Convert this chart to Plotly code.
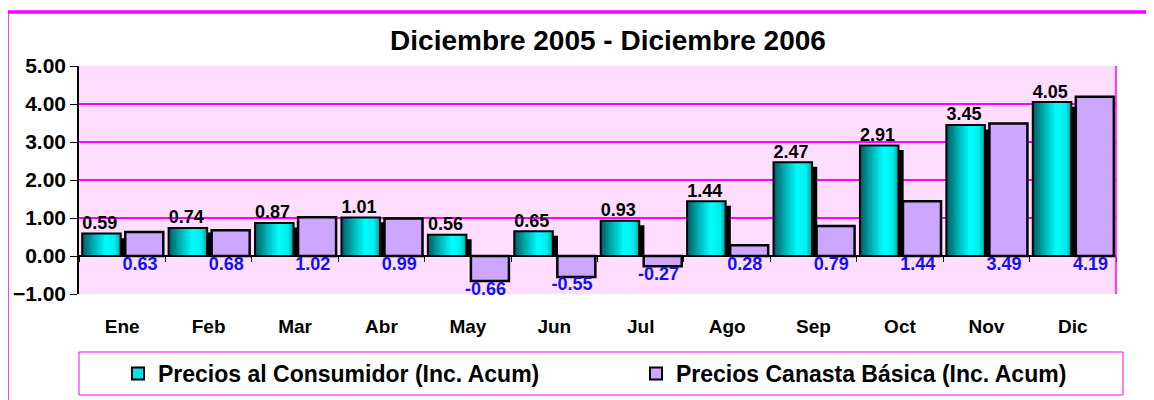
import plotly.graph_objects as go

months = ["Ene", "Feb", "Mar", "Abr", "May", "Jun", "Jul", "Ago", "Sep", "Oct", "Nov", "Dic"]
consumidor = [0.59, 0.74, 0.87, 1.01, 0.56, 0.65, 0.93, 1.44, 2.47, 2.91, 3.45, 4.05]
canasta = [0.63, 0.68, 1.02, 0.99, -0.66, -0.55, -0.27, 0.28, 0.79, 1.44, 3.49, 4.19]
name1 = "Precios al Consumidor (Inc. Acum)"
name2 = "Precios Canasta Básica (Inc. Acum)"
y_ticks = [-1, 0, 1, 2, 3, 4, 5]

FONT = "Arial, Liberation Sans, sans-serif"
idx = list(range(len(months)))

# bar geometry (category units)
c_off, c_w = -0.463, 0.446
p_off, p_w = 0.035, 0.44

fig = go.Figure()

# shadow for cyan bars
fig.add_trace(go.Bar(x=idx, y=[v - 0.12 for v in consumidor], offset=c_off + 0.06, width=c_w,
                     marker=dict(color="black", line=dict(width=0)), showlegend=False, hoverinfo="skip"))

# gradient strips
stops = [(0.0, (0, 90, 95)), (0.3, (0, 175, 180)), (0.62, (0, 255, 255)), (0.85, (0, 235, 235)), (1.0, (0, 160, 165))]
def col(t):
    for (t0, c0), (t1, c1) in zip(stops[:-1], stops[1:]):
        if t0 <= t <= t1:
            f = (t - t0) / (t1 - t0) if t1 > t0 else 0
            return "rgb(%d,%d,%d)" % tuple(round(a + (b - a) * f) for a, b in zip(c0, c1))
    return "rgb(0,160,165)"

N = 16
sw = c_w / N
for i in range(N):
    start = c_off + i * sw
    fig.add_trace(go.Bar(x=idx, y=consumidor, offset=start, width=c_off + c_w - start,
                         marker=dict(color=col((i + 0.5) / N), line=dict(width=0)),
                         showlegend=False, hoverinfo="skip"))
# outline
fig.add_trace(go.Bar(x=idx, y=consumidor, offset=c_off, width=c_w,
                     marker=dict(color="rgba(0,0,0,0)", line=dict(color="black", width=2)),
                     showlegend=False, hoverinfo="skip"))

# purple bars
fig.add_trace(go.Bar(x=idx, y=canasta, offset=p_off, width=p_w,
                     marker=dict(color="#CCA6FF", line=dict(color="black", width=2.5)),
                     showlegend=False, hoverinfo="skip"))

# legend-only traces
fig.add_trace(go.Bar(x=[None], y=[None], name=name1, legend="legend",
                     marker=dict(color="#00E5E5", line=dict(color="black", width=2))))
fig.add_trace(go.Bar(x=[None], y=[None], name=name2, legend="legend2",
                     marker=dict(color="#CCA6FF", line=dict(color="black", width=2))))

# labels
fig.add_trace(go.Scatter(x=[i + c_off + c_w / 2 - 0.02 for i in idx], y=consumidor, mode="text",
                         text=["%.2f" % v for v in consumidor], textposition="top center",
                         textfont=dict(family=FONT, size=18, color="black", weight="bold"),
                         showlegend=False, hoverinfo="skip", cliponaxis=False))
fig.add_trace(go.Scatter(x=[i + p_off + p_w / 2 - 0.05 for i in idx], y=[min(v, 0) for v in canasta],
                         mode="text", text=["%.2f" % v for v in canasta], textposition="bottom center",
                         textfont=dict(family=FONT, size=18, color="#1010FF", weight="bold"),
                         showlegend=False, hoverinfo="skip", cliponaxis=False))

# page offset (body margin) compensation
OFF = 8
W, H = 1154 - OFF, 400 - OFF
L, T = 79 - OFF, 66 - OFF
R = W - (1116 - OFF)
B = H - (294 - OFF)
pw, ph = W - L - R, H - T - B

def px_x(p):
    return (p - OFF - L) / pw

def px_y(p):
    return (H - B - (p - OFF)) / ph

leg_font = dict(family=FONT, size=23, color="black", weight="bold")

fig.update_layout(
    width=W, height=H,
    margin=dict(l=L, r=R, t=T, b=B, autoexpand=False),
    paper_bgcolor="white",
    plot_bgcolor="#FFDDFF",
    barmode="overlay",
    font=dict(family=FONT, color="black"),
    title=dict(text="Diciembre 2005 - Diciembre 2006", x=px_x(608), xref="paper", xanchor="center",
               y=1 - (40 - OFF) / H, yanchor="middle",
               font=dict(family=FONT, size=28, color="black", weight="bold")),
    xaxis=dict(range=[-0.5, len(months) - 0.5], tickvals=idx, ticktext=months, ticks="",
               showgrid=False, zeroline=False, showline=False, ticklabelstandoff=19, automargin=False,
               tickfont=dict(family=FONT, size=19, color="black", weight="bold")),
    xaxis2=dict(range=[-0.5, len(months) - 0.5], overlaying="x", anchor="free",
                position=(0 - y_ticks[0]) / (y_ticks[-1] - y_ticks[0]), automargin=False,
                tickvals=[i - 0.5 for i in range(len(months) + 1)], ticks="outside", ticklen=5,
                tickcolor="black", tickwidth=1, showticklabels=False, showgrid=False,
                zeroline=False, showline=False),
    yaxis=dict(range=[y_ticks[0], y_ticks[-1]], tickvals=y_ticks, tickformat=".2f", automargin=False,
               showgrid=True, gridcolor="#FF00FF", gridwidth=2,
               zeroline=True, zerolinecolor="black", zerolinewidth=1.5,
               showline=True, linecolor="black", linewidth=1.5,
               ticks="outside", ticklen=7, tickcolor="black", tickwidth=1,
               tickfont=dict(family=FONT, size=21, color="black", weight="bold")),
    legend=dict(orientation="h", x=px_x(118), y=px_y(373.5), xanchor="left", yanchor="middle",
                bgcolor="rgba(0,0,0,0)", borderwidth=0, font=leg_font),
    legend2=dict(orientation="h", x=px_x(636), y=px_y(373.5), xanchor="left", yanchor="middle",
                 bgcolor="rgba(0,0,0,0)", borderwidth=0, font=leg_font),
    shapes=[
        dict(type="rect", xref="paper", yref="paper", x0=px_x(79), x1=px_x(1123),
             y0=px_y(395), y1=px_y(352), line=dict(color="#FF00FF", width=1), fillcolor="white",
             layer="below"),
        dict(type="line", xref="paper", yref="paper", x0=1, x1=1, y0=0, y1=1,
             line=dict(color="#FF00FF", width=1.5)),
        dict(type="rect", xref="paper", yref="paper", x0=px_x(7), x1=px_x(1300),
             y0=px_y(500), y1=px_y(12), line=dict(color="#FF00FF", width=3.5), layer="above"),
    ],
)

fig.add_trace(go.Scatter(x=[None], y=[None], xaxis="x2", showlegend=False, hoverinfo="skip"))

fig.write_html("out.html")
